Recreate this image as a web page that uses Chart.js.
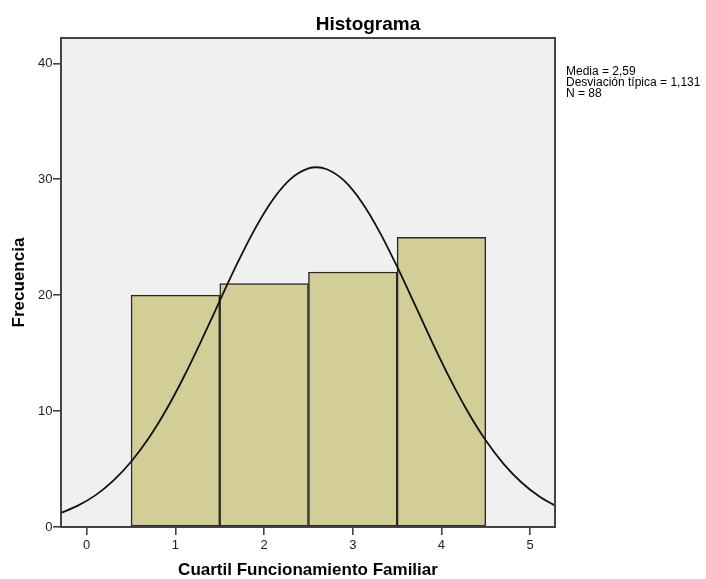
<!DOCTYPE html>
<html>
<head>
<meta charset="utf-8">
<script src="https://cdn.jsdelivr.net/npm/chart.js@4/dist/chart.umd.min.js"></script>
<style>
  html, body { margin: 0; padding: 0; background: #ffffff; }
  #wrap { width: 706px; height: 579px; }
</style>
</head>
<body>
<div id="wrap"><canvas id="c" width="706" height="579"></canvas></div>
<script>
// ---- data ----
const chartTitle = "Histograma";
const xAxisTitle = "Cuartil Funcionamiento Familiar";
const yAxisTitle = "Frecuencia";
const statLines = ["Media = 2,59", "Desviación típica = 1,131", "N = 88"];

const binCenters = [1, 2, 3, 4];
const frequencies = [20, 21, 22, 25];

// normal curve
const curveX = [-0.3, -0.1, 0.1, 0.3, 0.5, 0.7, 0.9, 1.1, 1.3, 1.5, 1.7, 1.9, 2.1, 2.3, 2.5, 2.59, 2.7, 2.9, 3.1, 3.3, 3.5, 3.7, 3.9, 4.1, 4.3, 4.5, 4.7, 4.9, 5.1, 5.3];
const curveY = [1.19, 1.84, 2.75, 4.00, 5.63, 7.68, 10.16, 13.03, 16.20, 19.51, 22.78, 25.77, 28.26, 30.04, 30.94, 31.04, 30.89, 29.90, 28.04, 25.49, 22.46, 19.18, 15.87, 12.73, 9.90, 7.46, 5.45, 3.86, 2.65, 1.76];

const xMin = -0.29, xMax = 5.28;
const yMin = 0, yMax = 42.19;
const xStep = 1, yStep = 10;

const FONT = "'Liberation Sans', Arial, sans-serif";

const histData = binCenters.map((x, i) => ({ x: x, y: frequencies[i] }));
const curveData = curveX.map((x, i) => ({ x: x, y: curveY[i] }));

const decorPlugin = {
  id: 'decor',
  beforeDraw(chart) {
    const { ctx, chartArea: a } = chart;
    ctx.save();
    ctx.fillStyle = '#ffffff';
    ctx.fillRect(0, 0, chart.width, chart.height);
    ctx.fillStyle = '#f0f0f0';
    ctx.fillRect(a.left, a.top, a.right - a.left, a.bottom - a.top);
    ctx.restore();
  },
  afterDatasetsDraw(chart) {
    const { ctx, chartArea: a } = chart;
    ctx.save();
    ctx.strokeStyle = '#444444';
    ctx.lineWidth = 2;
    ctx.strokeRect(a.left, a.top, a.right - a.left, a.bottom - a.top);
    ctx.restore();
  },
  afterDraw(chart) {
    const { ctx } = chart;
    ctx.save();
    ctx.fillStyle = '#000000';
    ctx.font = "bold 19px " + FONT;
    ctx.textAlign = 'center';
    ctx.textBaseline = 'alphabetic';
    ctx.fillText(chartTitle, 368, 30);
    ctx.font = "12px " + FONT;
    ctx.textAlign = 'left';
    statLines.forEach((t, i) => ctx.fillText(t, 566, 74.6 + i * 11.3));
    ctx.restore();
  }
};

new Chart(document.getElementById('c'), {
  type: 'bar',
  data: {
    datasets: [
      {
        type: 'line',
        data: curveData,
        borderColor: '#111111',
        borderWidth: 1.8,
        pointRadius: 0,
        fill: false,
        cubicInterpolationMode: 'monotone',
        order: 0
      },
      {
        type: 'bar',
        data: histData,
        backgroundColor: '#d3ce98',
        borderColor: '#2a2a2a',
        borderWidth: 1.5,
        borderSkipped: false,
        barPercentage: 1,
        categoryPercentage: 1,
        order: 1
      }
    ]
  },
  options: {
    responsive: false,
    animation: false,
    devicePixelRatio: 1,
    layout: { padding: { left: 0, right: 151, top: 38, bottom: 0 } },
    plugins: {
      legend: { display: false },
      tooltip: { enabled: false },
      title: { display: false }
    },
    scales: {
      x: {
        type: 'linear',
        position: 'bottom',
        min: xMin,
        max: xMax,
        offset: false,
        ticks: { stepSize: xStep, includeBounds: false, color: '#222222', font: { family: FONT, size: 13 }, padding: 2.2, maxRotation: 0 },
        grid: { display: true, offset: false, drawOnChartArea: false, drawTicks: true, tickLength: 8, color: '#444444', lineWidth: 1.6 },
        border: { display: false },
        title: { display: true, text: xAxisTitle, color: '#000000', font: { family: FONT, size: 17, weight: 'bold', lineHeight: 1 }, padding: { top: 0, bottom: 0 } },
        afterFit(scale) { scale.height = 52; }
      },
      y: {
        type: 'linear',
        position: 'left',
        min: yMin,
        max: yMax,
        ticks: { stepSize: yStep, includeBounds: false, color: '#222222', font: { family: FONT, size: 13 }, padding: 0.5 },
        grid: { display: true, offset: false, drawOnChartArea: false, drawTicks: true, tickLength: 8, color: '#444444', lineWidth: 1.6 },
        border: { display: false },
        title: { display: true, text: yAxisTitle, color: '#000000', font: { family: FONT, size: 17, weight: 'bold', lineHeight: 1 }, padding: { top: 10.5, bottom: 0 } },
        afterFit(scale) { scale.width = 61; }
      }
    }
  },
  plugins: [decorPlugin]
});
</script>
</body>
</html>
